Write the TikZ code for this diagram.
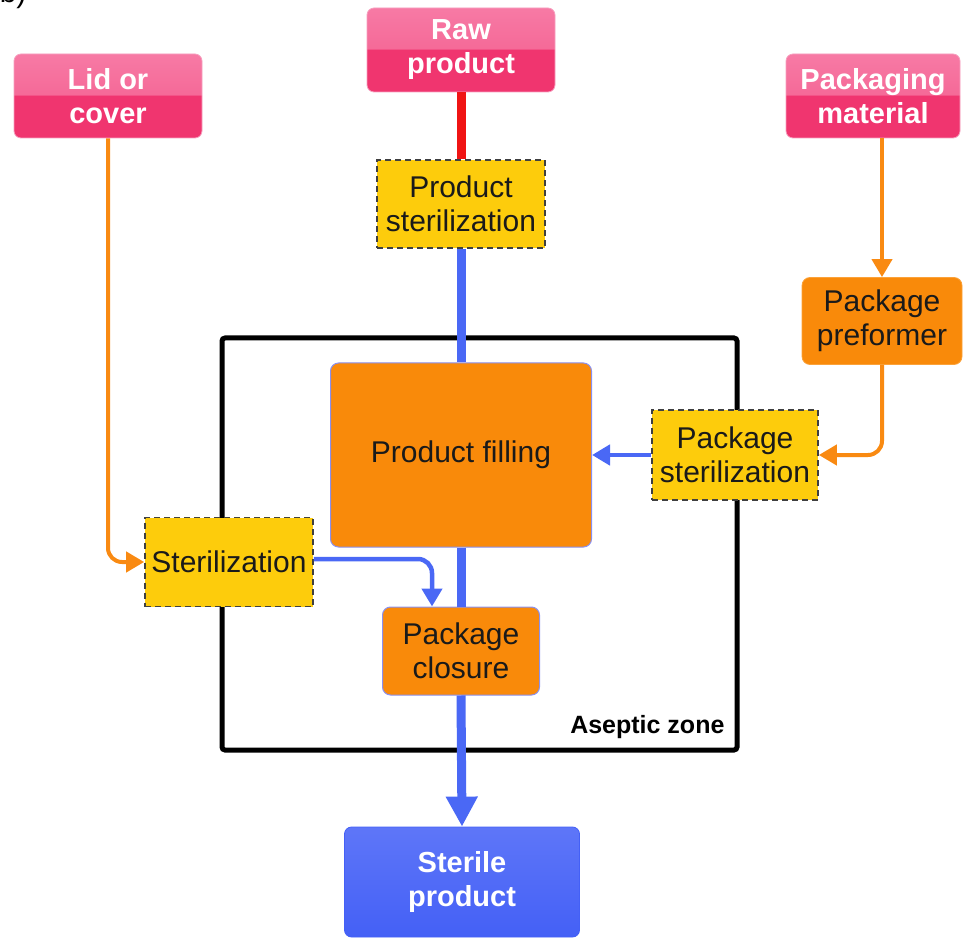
\documentclass[tikz,border=0pt]{standalone}
\usepackage{fontspec}
\setmainfont{Liberation Sans}
\usetikzlibrary{arrows.meta}
\definecolor{pinkL}{HTML}{F98AB2}
\definecolor{pinkM}{HTML}{F56A98}
\definecolor{pinkD}{HTML}{F0356F}
\definecolor{pinkE}{HTML}{F6A0BF}
\definecolor{orng}{HTML}{F98A0A}
\definecolor{orngL}{HTML}{FBA23A}
\definecolor{yel}{HTML}{FDCC0C}
\definecolor{blu}{HTML}{4460F6}
\definecolor{bluL}{HTML}{5E76F8}
\definecolor{lnblue}{HTML}{4A68F5}
\definecolor{lnred}{HTML}{F01414}
\definecolor{lnorng}{HTML}{F98A12}
\definecolor{bord}{HTML}{8A90F0}
\definecolor{txt}{HTML}{1A1A1A}
\pgfdeclareverticalshading{pinkgloss}{100bp}{color(0bp)=(pinkD); color(50bp)=(pinkD); color(51bp)=(pinkM); color(100bp)=(pinkL)}
\tikzset{
  lbl/.style={font=\fontsize{30}{34}\selectfont, align=center, text=txt},
  pinkbox/.style={lbl, font=\bfseries\fontsize{29}{34}\selectfont, text=white, rounded corners=7pt,
    shading=pinkgloss, draw=pinkE, line width=0.8pt, inner sep=0pt},
  sterbox/.style={lbl, fill=yel, draw=black!75, line width=1.6pt, dash pattern=on 6pt off 4pt, inner sep=0pt},
  orbox/.style={lbl, rounded corners=8pt, fill=orng, draw=bord, line width=1pt, inner sep=0pt},
  prebox/.style={lbl, rounded corners=8pt, fill=orng, draw=orngL, line width=0.8pt, inner sep=0pt},
  bluebox/.style={lbl, font=\bfseries\fontsize{29}{34}\selectfont, text=white, rounded corners=7pt,
    top color=bluL, bottom color=blu, draw=blu, line width=0.8pt, inner sep=0pt},
  blueln/.style={draw=lnblue, line width=9pt},
  blueth/.style={draw=lnblue, line width=4.5pt, rounded corners=14pt, -{Triangle[length=18pt,width=20pt]}},
  orngln/.style={draw=lnorng, line width=4pt, rounded corners=14pt, -{Triangle[length=18pt,width=20pt]}},
  zone/.style={draw=black, line width=5pt, rounded corners=3pt}
}
\begin{document}
\begin{tikzpicture}[x=1pt,y=-1pt]
\useasboundingbox (0,0) rectangle (975,941);
\node[anchor=base east, font=\fontsize{30}{34}\selectfont] (tag) at (30,3) {b)};
% aseptic zone
\draw[zone] (222,338) rectangle (737,750);
\node[anchor=east, font=\bfseries\fontsize{25}{28}\selectfont] (zl) at (728,727) {Aseptic zone};
% nodes
\node[pinkbox, minimum width=188pt, minimum height=84pt] (lid) at (108,96) {Lid or\\cover};
\node[pinkbox, minimum width=188pt, minimum height=84pt] (raw) at (461,50) {Raw\\product};
\node[pinkbox, minimum width=174pt, minimum height=84pt] (pm) at (873,96) {Packaging\\material};
\node[sterbox, minimum width=168pt, minimum height=88pt] (ps) at (461,204) {Product\\sterilization};
\node[prebox, minimum width=160pt, minimum height=87pt] (pp) at (882,321) {Package\\preformer};
\node[orbox, minimum width=261pt, minimum height=184pt] (pf) at (461,455) {Product filling};
\node[sterbox, minimum width=166pt, minimum height=90pt] (pks) at (735,455) {Package\\sterilization};
\node[sterbox, minimum width=168pt, minimum height=89pt] (st) at (229,562) {Sterilization};
\node[orbox, minimum width=157pt, minimum height=88pt] (pc) at (461,651) {Package\\closure};
\node[bluebox, minimum width=235pt, minimum height=110pt] (sp) at (462,882) {Sterile\\product};
% connectors
\draw[draw=lnred, line width=9pt] (raw.south) -- (ps.north);
\draw[blueln] (ps.south) -- (pf.north);
\draw[blueln] (pf.south) -- (pc.north);
\draw[draw=lnblue, line width=9pt, -{Triangle[length=30pt,width=30pt]}] (pc.south) -- (sp.north);
\draw[orngln] (pp.north |- pm.south) -- (pp.north);
\draw[orngln] (pp.south) |- (pks.east);
\draw[orngln] (lid.south) |- (st.west);
\draw[blueth] (pks.west) -- (pf.east);
\coordinate (cl) at (432,0);
\draw[blueth] ([yshift=3pt]st.east) -| (cl |- pc.north);
\end{tikzpicture}
\end{document}
